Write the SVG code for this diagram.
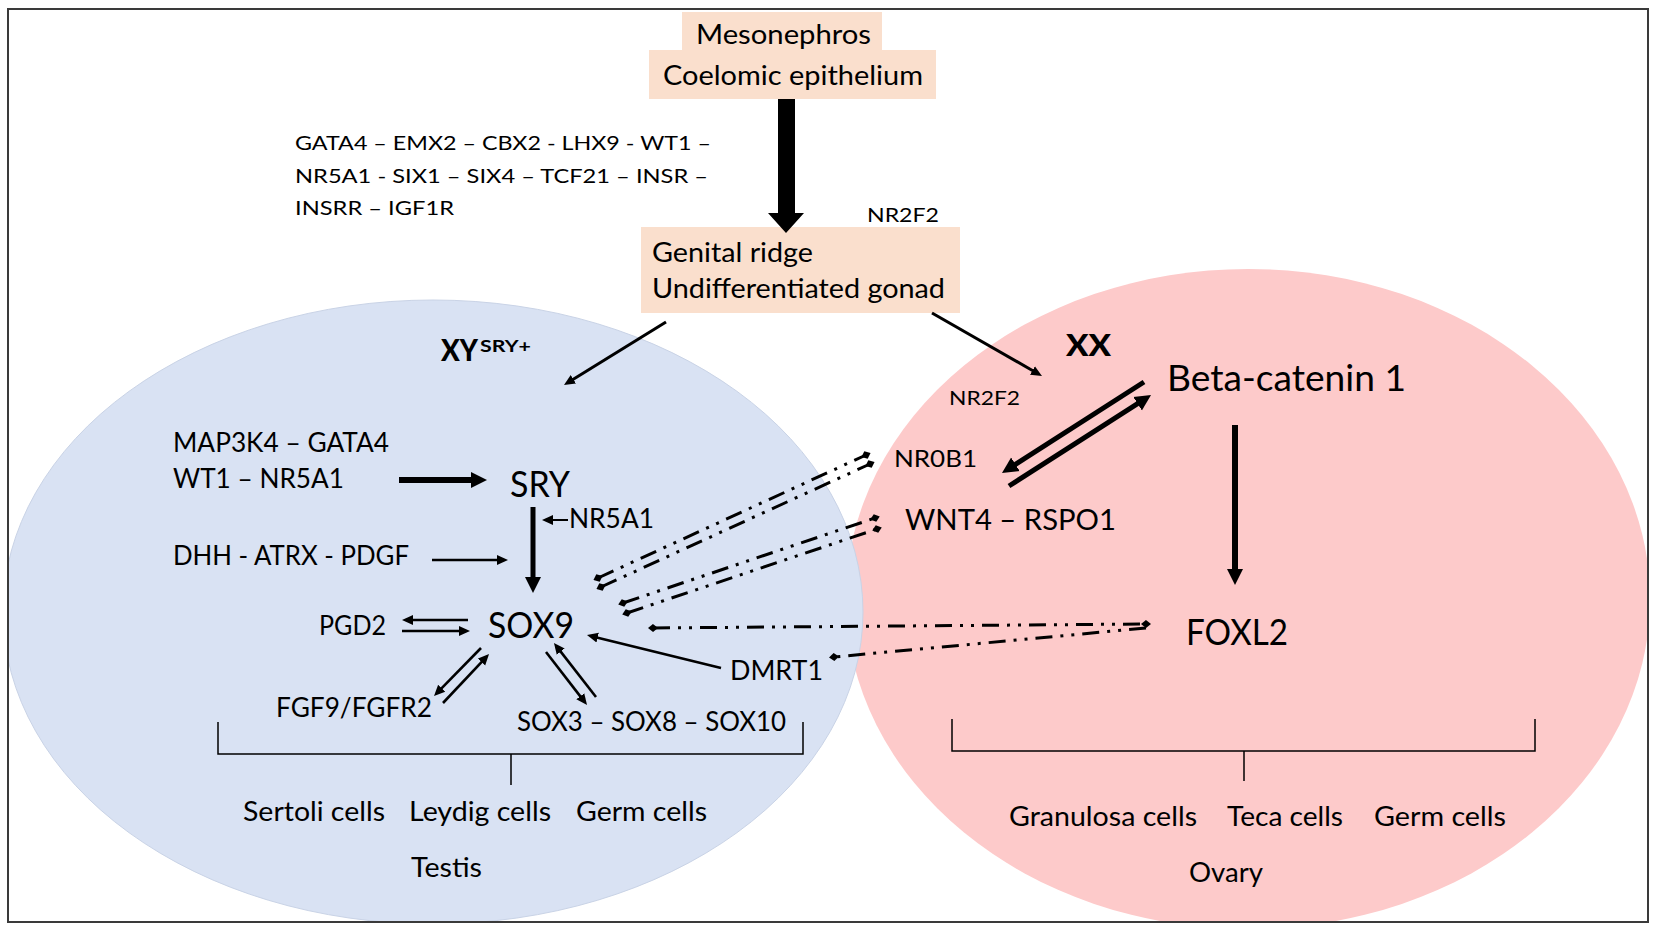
<svg xmlns="http://www.w3.org/2000/svg" width="1654" height="932" viewBox="0 0 1654 932">
<style>
.t{font-family:Lato,"Liberation Sans",sans-serif;fill:#000}
.big{font-size:36px}
.med{font-size:26px}
.sm{font-size:20px}
.bd{font-size:31px;font-weight:900}
.box{fill:#FADFCD}
.ln{stroke:#000;fill:none}
.thin{stroke-width:2.6}
.mid{stroke-width:5}
.dd{stroke:#000;stroke-width:3;fill:none;stroke-dasharray:17 8 3 8 3 8}
</style>
<defs>
<clipPath id="frame"><rect x="9" y="10" width="1638" height="911"/></clipPath>
<marker id="ah" markerUnits="userSpaceOnUse" markerWidth="12" markerHeight="12" viewBox="0 -6 12 12" refX="1" refY="0" orient="auto"><path d="M0,-5 L11,0 L0,5 Z" fill="#000"/></marker>
<marker id="ahM" markerUnits="userSpaceOnUse" markerWidth="18" markerHeight="18" viewBox="0 -9 18 18" refX="1" refY="0" orient="auto"><path d="M0,-8 L16,0 L0,8 Z" fill="#000"/></marker>
<marker id="dm" markerUnits="userSpaceOnUse" markerWidth="12" markerHeight="10" viewBox="0 -5 12 10" refX="5" refY="0" orient="auto"><path d="M0,0 L5,-4 L10,0 L5,4 Z" fill="#000"/></marker>
</defs>
<rect x="0" y="0" width="1654" height="932" fill="#fff"/>
<g id="regions" clip-path="url(#frame)">
<ellipse id="ovary-region" cx="1248" cy="599" rx="402" ry="330" fill="#FDCACA"/>
<ellipse id="testis-region" cx="433" cy="612" rx="430" ry="312" fill="#D9E2F3" stroke="#C9D3E6" stroke-width="1"/>
<rect x="1521" y="841" width="100" height="60" fill="#fff"/>
</g>
<rect id="frame-border" x="8" y="9" width="1640" height="913" fill="none" stroke="#3a3a3a" stroke-width="2"/>

<g id="mesonephros">
<rect class="box" x="682" y="12" width="200" height="40"/>
<rect class="box" x="649" y="50" width="287" height="49"/>
<text class="t med" x="696" y="44" textLength="175" lengthAdjust="spacingAndGlyphs">Mesonephros</text>
<text class="t med" x="663" y="85" textLength="260" lengthAdjust="spacingAndGlyphs">Coelomic epithelium</text>
</g>
<g id="genes-top">
<text class="t sm" x="295" y="150" textLength="416" lengthAdjust="spacingAndGlyphs">GATA4 – EMX2 – CBX2 - LHX9 - WT1 –</text>
<text class="t sm" x="295" y="183" textLength="413" lengthAdjust="spacingAndGlyphs">NR5A1 - SIX1 – SIX4 – TCF21 – INSR –</text>
<text class="t sm" x="295" y="215" textLength="159" lengthAdjust="spacingAndGlyphs">INSRR – IGF1R</text>
</g>
<g id="nr2f2-top"><text class="t sm" x="867" y="222" textLength="72" lengthAdjust="spacingAndGlyphs">NR2F2</text></g>
<g id="genital-ridge">
<rect class="box" x="641" y="227" width="319" height="86"/>
<text class="t med" x="652" y="262" textLength="161" lengthAdjust="spacingAndGlyphs">Genital ridge</text>
<text class="t med" x="652" y="298" textLength="293" lengthAdjust="spacingAndGlyphs">Undifferentiated gonad</text>
</g>

<g id="xy-label">
<text class="t bd" x="441" y="361" textLength="37" lengthAdjust="spacingAndGlyphs">XY</text>
<text class="t" x="480" y="352" font-size="17" font-weight="bold" textLength="51" lengthAdjust="spacingAndGlyphs">SRY+</text>
</g>
<g id="map3k4"><text class="t med" x="173" y="452" textLength="216" lengthAdjust="spacingAndGlyphs">MAP3K4 – GATA4</text>
<text class="t med" x="173" y="488" textLength="171" lengthAdjust="spacingAndGlyphs">WT1 – NR5A1</text></g>
<g id="sry"><text class="t big" x="510" y="497" textLength="60" lengthAdjust="spacingAndGlyphs">SRY</text></g>
<g id="nr5a1"><text class="t med" x="569" y="528" textLength="85" lengthAdjust="spacingAndGlyphs">NR5A1</text></g>
<g id="dhh"><text class="t med" x="173" y="565" textLength="236" lengthAdjust="spacingAndGlyphs">DHH - ATRX - PDGF</text></g>
<g id="sox9"><text class="t big" x="488" y="638" textLength="86" lengthAdjust="spacingAndGlyphs">SOX9</text></g>
<g id="pgd2"><text class="t med" x="319" y="635" textLength="67" lengthAdjust="spacingAndGlyphs">PGD2</text></g>
<g id="fgf9"><text class="t med" x="276" y="717" textLength="156" lengthAdjust="spacingAndGlyphs">FGF9/FGFR2</text></g>
<g id="sox3"><text class="t med" x="517" y="731" textLength="269" lengthAdjust="spacingAndGlyphs">SOX3 – SOX8 – SOX10</text></g>
<g id="dmrt1"><text class="t med" x="730" y="680" textLength="93" lengthAdjust="spacingAndGlyphs">DMRT1</text></g>

<g id="xx-label"><text class="t bd" x="1066" y="356" textLength="45" lengthAdjust="spacingAndGlyphs">XX</text></g>
<g id="nr2f2"><text class="t sm" x="949" y="405" textLength="71" lengthAdjust="spacingAndGlyphs">NR2F2</text></g>
<g id="beta-catenin"><text class="t big" x="1167" y="391" textLength="239" lengthAdjust="spacingAndGlyphs">Beta-catenin 1</text></g>
<g id="nr0b1"><text class="t" font-size="24" x="894" y="467" textLength="83" lengthAdjust="spacingAndGlyphs">NR0B1</text></g>
<g id="wnt4"><text class="t" font-size="28" x="905" y="530" textLength="211" lengthAdjust="spacingAndGlyphs">WNT4 – RSPO1</text></g>
<g id="foxl2"><text class="t big" x="1186" y="645" textLength="102" lengthAdjust="spacingAndGlyphs">FOXL2</text></g>

<g id="testis-cells">
<path class="ln" stroke-width="1.5" d="M218,722 V754 H803 V722 M511,754 V785"/>
<text class="t med" x="243" y="821" textLength="142" lengthAdjust="spacingAndGlyphs">Sertoli cells</text>
<text class="t med" x="409" y="821" textLength="142" lengthAdjust="spacingAndGlyphs">Leydig cells</text>
<text class="t med" x="576" y="821" textLength="131" lengthAdjust="spacingAndGlyphs">Germ cells</text>
<text class="t med" x="411" y="877" textLength="71" lengthAdjust="spacingAndGlyphs">Testis</text>
</g>
<g id="ovary-cells">
<path class="ln" stroke-width="1.5" d="M952,719 V751 H1535 V719 M1244,751 V781"/>
<text class="t med" x="1009" y="826" textLength="188" lengthAdjust="spacingAndGlyphs">Granulosa cells</text>
<text class="t med" x="1227" y="826" textLength="116" lengthAdjust="spacingAndGlyphs">Teca cells</text>
<text class="t med" x="1374" y="826" textLength="132" lengthAdjust="spacingAndGlyphs">Germ cells</text>
<text class="t med" x="1189" y="882" textLength="74" lengthAdjust="spacingAndGlyphs">Ovary</text>
</g>

<g id="connectors">
<polygon points="778,99 795,99 795,213 804,213 786,233 768,213 778,213" fill="#000"/>
<line class="ln" stroke-width="3" x1="666" y1="322" x2="572.5" y2="379.8" marker-end="url(#ah)"/>
<line class="ln" stroke-width="3" x1="932" y1="313" x2="1033.3" y2="371" marker-end="url(#ah)"/>
<line class="ln" stroke-width="6" x1="399" y1="480" x2="472" y2="480" marker-end="url(#ahM)"/>
<line class="ln mid" x1="533" y1="507" x2="533" y2="578" marker-end="url(#ahM)"/>
<line class="ln thin" x1="432" y1="560" x2="498" y2="560" marker-end="url(#ah)"/>
<line class="ln" stroke-width="2" x1="568" y1="520" x2="552" y2="520" marker-end="url(#ah)"/>
<line class="ln thin" x1="468" y1="620" x2="412" y2="620" marker-end="url(#ah)"/>
<line class="ln thin" x1="402" y1="631" x2="460" y2="631" marker-end="url(#ah)"/>
<line class="ln thin" x1="481" y1="648" x2="441" y2="688.9" marker-end="url(#ah)"/>
<line class="ln thin" x1="443" y1="703" x2="482.2" y2="661.3" marker-end="url(#ah)"/>
<line class="ln thin" x1="546" y1="652" x2="580.9" y2="697.1" marker-end="url(#ah)"/>
<line class="ln thin" x1="596" y1="697" x2="560.1" y2="650.9" marker-end="url(#ah)"/>
<line class="ln thin" x1="721" y1="668" x2="596.7" y2="637.4" marker-end="url(#ah)"/>
<line class="ln mid" x1="1144" y1="382" x2="1014.6" y2="464.9" marker-end="url(#ahM)"/>
<line class="ln mid" x1="1009" y1="486" x2="1138.4" y2="403.1" marker-end="url(#ahM)"/>
<line class="ln" stroke-width="6" x1="1235" y1="425" x2="1235" y2="570" marker-end="url(#ahM)"/>
<line class="dd" x1="598" y1="578" x2="866" y2="455" marker-start="url(#dm)" marker-end="url(#dm)"/>
<line class="dd" x1="601" y1="587" x2="870" y2="464" marker-start="url(#dm)" marker-end="url(#dm)"/>
<line class="dd" x1="623" y1="603" x2="875" y2="518" marker-start="url(#dm)" marker-end="url(#dm)"/>
<line class="dd" x1="627" y1="613" x2="877" y2="529" marker-start="url(#dm)" marker-end="url(#dm)"/>
<line class="dd" x1="653" y1="628" x2="1146" y2="624" marker-start="url(#dm)" marker-end="url(#dm)"/>
<line class="dd" x1="1146" y1="628" x2="834" y2="657" marker-end="url(#dm)"/>
</g>
</svg>
